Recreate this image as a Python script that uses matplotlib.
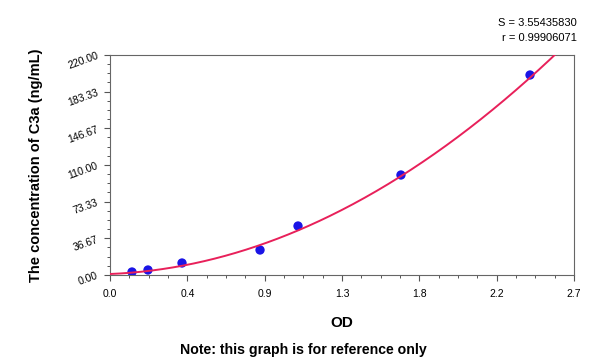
import numpy as np
import matplotlib
matplotlib.use("Agg")
import matplotlib.pyplot as plt
from matplotlib.ticker import FixedLocator, AutoMinorLocator

plt.rcParams['font.family'] = ['Liberation Sans', 'DejaVu Sans']

od = [0.128, 0.221, 0.419, 0.873, 1.094, 1.693, 2.444]
conc = [3.0, 5.0, 12.0, 25.0, 49.0, 100.0, 200.0]

# standard-curve coefficients (quadratic)
curve_coef = [30.0, 7.0, 1.0]

x_ticks = [0.0, 0.45, 0.9, 1.35, 1.8, 2.25, 2.7]
x_labels = ["0.0", "0.4", "0.9", "1.3", "1.8", "2.2", "2.7"]
y_ticks = [0.0, 36.67, 73.33, 110.0, 146.67, 183.33, 220.0]
y_labels = ["0.00", "36.67", "73.33", "110.00", "146.67", "183.33", "220.00"]

fig = plt.figure(figsize=(6.0, 3.63), dpi=100)
ax = fig.add_axes([110/600, 1-275/363, (574-110)/600, (275-55)/363])

xx = np.linspace(0, 2.7, 400)
yy = np.polyval(curve_coef, xx)

ax.scatter(od, conc, s=45, color='#1a14e6', zorder=3, edgecolors='none')
ax.plot(xx, yy, color='#e8205a', lw=1.4, zorder=4)

ax.set_xlim(0, 2.7)
ax.set_ylim(0, 220)
ax.xaxis.set_major_locator(FixedLocator(x_ticks))
ax.set_xticklabels(x_labels)
ax.yaxis.set_major_locator(FixedLocator(y_ticks))
ax.set_yticklabels(y_labels, rotation=20)
ax.xaxis.set_minor_locator(AutoMinorLocator(4))
ax.yaxis.set_minor_locator(AutoMinorLocator(4))
ax.tick_params(axis='both', which='major', length=4, width=0.8, labelsize=7.5, color='#555555')
ax.tick_params(axis='x', which='major', pad=6)
ax.tick_params(axis='both', which='minor', length=2.5, width=0.7, color='#555555')
for s in ax.spines.values():
    s.set_color('#666666')
    s.set_linewidth(0.8)

ax.set_xlabel('OD', fontsize=11, fontweight='bold', labelpad=12)
ax.set_ylabel('The concentration of C3a (ng/mL)', fontsize=10.5, fontweight='bold', labelpad=17)

fig.text(577/600, 1-23/363, 'S = 3.55435830', ha='right', va='center', fontsize=8)
fig.text(577/600, 1-38/363, 'r = 0.99906071', ha='right', va='center', fontsize=8)
fig.text(303/600, 1-350/363, 'Note: this graph is for reference only', ha='center', va='center', fontsize=10.2, fontweight='bold')

fig.savefig('out.png', dpi=100)
